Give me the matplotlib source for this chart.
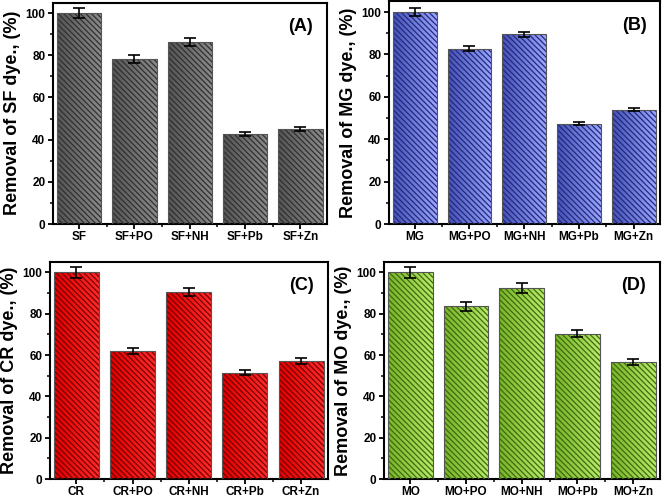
import numpy as np
import matplotlib
matplotlib.use("Agg")
import matplotlib.pyplot as plt
from matplotlib.colors import LinearSegmentedColormap
from matplotlib.ticker import MultipleLocator

plt.rcParams['font.family'] = ['Liberation Sans', 'DejaVu Sans']
plt.rcParams['font.weight'] = 'bold'
plt.rcParams['hatch.linewidth'] = 0.9

# ---- data ----
cats_A = ["SF", "SF+PO", "SF+NH", "SF+Pb", "SF+Zn"]
vals_A = [100.0, 78.3, 86.4, 42.8, 45.0]
errs_A = [2.5, 2.0, 2.0, 1.0, 1.0]

cats_B = ["MG", "MG+PO", "MG+NH", "MG+Pb", "MG+Zn"]
vals_B = [100.0, 82.8, 89.5, 47.4, 54.0]
errs_B = [1.8, 1.3, 1.3, 0.7, 0.8]

cats_C = ["CR", "CR+PO", "CR+NH", "CR+Pb", "CR+Zn"]
vals_C = [100.0, 61.8, 90.5, 51.4, 57.0]
errs_C = [2.5, 1.5, 2.0, 1.2, 1.5]

cats_D = ["MO", "MO+PO", "MO+NH", "MO+Pb", "MO+Zn"]
vals_D = [100.0, 83.5, 92.5, 70.3, 56.8]
errs_D = [2.8, 2.2, 2.5, 1.8, 1.4]

ylabels = ["Removal of SF dye., (%)", "Removal of MG dye., (%)",
           "Removal of CR dye., (%)", "Removal of MO dye., (%)"]
tags = ["(A)", "(B)", "(C)", "(D)"]

W, H = 664, 498
fig = plt.figure(figsize=(W / 100, H / 100), dpi=100)

def box(l, r, t, b):
    return [l / W, 1 - b / H, (r - l) / W, (b - t) / H]

panels = [
    (box(53, 327, 2.5, 224), cats_A, vals_A, errs_A,
     ("#555555", "#8a8a8a"), "#303030"),
    (box(389, 660, 1.5, 224), cats_B, vals_B, errs_B,
     ("#4450b8", "#9aa6ff"), "#232a78"),
    (box(50, 328, 262, 479), cats_C, vals_C, errs_C,
     ("#e00000", "#ff2a2a"), "#780000"),
    (box(384, 660, 262, 479), cats_D, vals_D, errs_D,
     ("#78b428", "#b8ea6a"), "#3e6a0e"),
]

for i, (pos, cats, vals, errs, grad, hcol) in enumerate(panels):
    ax = fig.add_axes(pos)
    x = np.arange(1, len(cats) + 1)
    cmap = LinearSegmentedColormap.from_list("g", list(grad))
    bars = ax.bar(x, vals, width=0.8, color="none", edgecolor=hcol,
                  linewidth=0, hatch="\\" * 6, zorder=3)
    for b in bars:
        x0, y0 = b.get_x(), b.get_y()
        w, h = b.get_width(), b.get_height()
        grad_img = np.linspace(0, 1, 64).reshape(1, -1)
        im = ax.imshow(grad_img, extent=[x0, x0 + w, y0, y0 + h], cmap=cmap,
                       aspect="auto", zorder=2, interpolation="bilinear")
        im.set_clip_path(b)
    ax.bar(x, vals, width=0.8, color="none", edgecolor="#555555",
           linewidth=0.8, zorder=4)
    ax.errorbar(x, vals, yerr=errs, fmt="none", ecolor="black",
                elinewidth=1.2, capsize=4, capthick=1.2, zorder=5)
    ax.set_xlim(0.53, 5.48)
    ax.set_ylim(0, 105)
    ax.set_xticks(x)
    ax.set_xticklabels(cats, fontsize=8.5, fontweight="bold")
    ax.set_xticks(np.arange(1.5, 5.0, 1.0), minor=True)
    ax.yaxis.set_major_locator(MultipleLocator(20))
    ax.yaxis.set_minor_locator(MultipleLocator(10))
    for lab in ax.get_yticklabels():
        lab.set_fontweight("bold")
    ax.tick_params(axis="x", which="major", labelsize=8.5, pad=1.5)
    ax.tick_params(axis="y", which="major", labelsize=8.5, pad=2)
    ax.tick_params(axis="both", which="major", direction="out", length=3.5,
                   width=1.3)
    ax.tick_params(axis="both", which="minor", direction="out", length=2.5,
                   width=1.1)
    for s in ax.spines.values():
        s.set_linewidth(1.5)
    ax.set_ylabel(ylabels[i], fontsize=13, fontweight="bold", labelpad=3)
    ax.text(0.95, 0.93, tags[i], transform=ax.transAxes, ha="right",
            va="top", fontsize=13, fontweight="bold")

fig.savefig("out.png", dpi=100)
